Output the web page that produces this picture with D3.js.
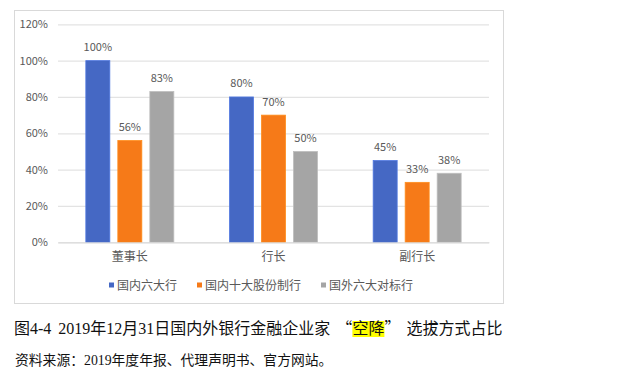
<!DOCTYPE html>
<html><head><meta charset="utf-8">
<script src="https://cdn.jsdelivr.net/npm/d3@7"></script>
<style>body{margin:0;background:#fff}svg{display:block}</style>
</head><body>
<svg id="c" width="618" height="383"></svg>
<script>
const categories = ["董事长", "行长", "副行长"];
const seriesNames = ["国内六大行", "国内十大股份制行", "国外六大对标行"];
const s1 = [1.00, 0.80, 0.45];
const s2 = [0.56, 0.70, 0.33];
const s3 = [0.83, 0.50, 0.38];
const yTicks = [0, 0.2, 0.4, 0.6, 0.8, 1.0, 1.2];
const colors = ["#4568C4", "#F67A18", "#A5A5A5"];
const series = [s1, s2, s3];

const svg = d3.select("#c");
const sans = "'Noto Sans CJK SC', 'Noto Sans', sans-serif";
const serif = "'Liberation Serif', 'Noto Sans CJK SC', serif";

svg.append("rect").attr("x", 14.5).attr("y", 10.5).attr("width", 489).attr("height", 293)
  .attr("fill", "#fff").attr("stroke", "#d9d9d9").attr("stroke-width", 1);

const y = d3.scaleLinear().domain([0, 1.2]).range([242.3, 24.3]);
const x0 = d3.scaleBand().domain(categories).range([58, 489]).padding(0);
const x1 = d3.scaleBand().domain(d3.range(3)).range([-44, 44]).paddingInner(0.25).paddingOuter(0);

// gridlines
const yAxis = d3.axisLeft(y).tickValues(yTicks).tickFormat(d3.format(".0%")).tickSize(-(489 - 58)).tickPadding(10);
const gy = svg.append("g").attr("transform", "translate(58,0)").call(yAxis);
gy.select(".domain").remove();
gy.selectAll(".tick line").attr("stroke", "#e3e3e3").attr("stroke-width", 1.2);
gy.selectAll(".tick text").attr("fill", "#595959").style("font-family", sans).style("font-size", "11px");

// bars
const groups = svg.append("g").selectAll("g").data(categories).join("g")
  .attr("transform", d => `translate(${x0(d) + x0.bandwidth() / 2},0)`);
groups.each(function (cat, ci) {
  const g = d3.select(this);
  series.forEach((s, si) => {
    g.append("rect")
      .attr("x", x1(si)).attr("width", x1.bandwidth())
      .attr("y", y(s[ci])).attr("height", y(0) - y(s[ci]))
      .attr("fill", colors[si]).attr("stroke", d3.color(colors[si]).brighter(0.4)).attr("stroke-width", 0.8);
    g.append("text")
      .attr("x", x1(si) + x1.bandwidth() / 2).attr("y", y(s[ci]) - 9.5)
      .attr("text-anchor", "middle").attr("fill", "#595959")
      .style("font-family", sans).style("font-size", "11px")
      .text(d3.format(".0%")(s[ci]));
  });
});

// x axis
const xAxis = d3.axisBottom(x0).tickSize(0).tickPadding(10);
const gx = svg.append("g").attr("transform", `translate(0,${y(0)})`).call(xAxis);
gx.select(".domain").attr("stroke", "#d9d9d9");
gx.selectAll(".tick text").attr("fill", "#595959").style("font-family", sans).style("font-size", "12px");

// legend
const legendX = [109, 197, 321];
const lg = svg.append("g");
seriesNames.forEach((n, i) => {
  lg.append("rect").attr("x", legendX[i]).attr("y", 282.5).attr("width", 5).attr("height", 5).attr("fill", colors[i]);
  lg.append("text").attr("x", legendX[i] + 8).attr("y", 289.5).attr("fill", "#595959")
    .style("font-family", sans).style("font-size", "12px").text(n);
});

// caption
const hlRect = svg.append("rect").attr("fill", "#ffff00");
const cap = svg.append("text").attr("x", 14).attr("y", 334)
  .style("font-family", serif).style("font-size", "16px").attr("fill", "#111");
cap.append("tspan").text("图4-4 ");
cap.append("tspan").attr("dx", 3).text("2019年12月31日国内外银行金融企业家");
cap.append("tspan").attr("dx", 6).style("font-family", sans).text("“");
const hl = cap.append("tspan").text("空降");
cap.append("tspan").style("font-family", sans).text("”");
cap.append("tspan").attr("dx", 6).text("选拔方式占比");
const bb = hl.node().getBBox();
hlRect.attr("x", bb.x).attr("y", 321).attr("width", bb.width).attr("height", 16);

svg.append("text").attr("x", 15).attr("y", 365)
  .style("font-family", serif).style("font-size", "13.8px").attr("fill", "#111")
  .text("资料来源：2019年度年报、代理声明书、官方网站。");
</script>
</body></html>
